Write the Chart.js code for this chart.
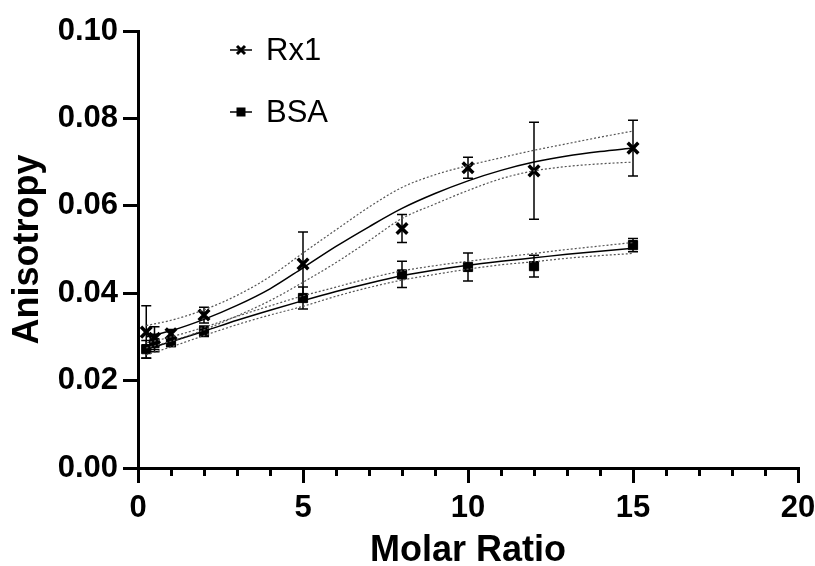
<!DOCTYPE html>
<html>
<head>
<meta charset="utf-8">
<script src="https://cdn.jsdelivr.net/npm/chart.js@4.4.1/dist/chart.umd.min.js"></script>
<style>
    html, body { margin: 0; padding: 0; background: #fff; }
    #wrap { width: 815px; height: 566px; }
</style>
</head>
<body>
<div id="wrap"><canvas id="chart"></canvas></div>
<script>
// measured points
const molarRatio = [0.25, 0.5, 1, 2, 5, 8, 10, 12, 15];
const rx1Mean = [0.0311, 0.0297, 0.0307, 0.0350, 0.0467, 0.0548, 0.0687, 0.0680, 0.0732];
const rx1Err = [0.0060, 0.0026, 0.0010, 0.0018, 0.0073, 0.0032, 0.0024, 0.0111, 0.0064];
const bsaMean = [0.0272, 0.0286, 0.0288, 0.0313, 0.0389, 0.0443, 0.0460, 0.0462, 0.0510];
const bsaErr = [0.0020, 0.0020, 0.0010, 0.0012, 0.0025, 0.0030, 0.0032, 0.0025, 0.0015];

// fitted curves + confidence bands
const fitX = [0.25, 1, 2, 3, 4, 5, 6, 7, 8, 9, 10, 11, 12, 13, 14, 15];
const rx1Fit = [0.0300, 0.0314, 0.0340, 0.0372, 0.0410, 0.0458, 0.0507, 0.0552, 0.0594, 0.0628, 0.0657, 0.0681, 0.0700, 0.0714, 0.0724, 0.0732];
const rx1Upper = [0.0326, 0.0338, 0.0362, 0.0395, 0.0438, 0.0492, 0.0545, 0.0597, 0.0642, 0.0671, 0.0692, 0.0710, 0.0727, 0.0742, 0.0757, 0.0771];
const rx1Lower = [0.0275, 0.0290, 0.0316, 0.0348, 0.0383, 0.0425, 0.0470, 0.0520, 0.0571, 0.0604, 0.0635, 0.0662, 0.0680, 0.0690, 0.0696, 0.0700];
const bsaFit = [0.0272, 0.0289, 0.0313, 0.0338, 0.0361, 0.0383, 0.0404, 0.0423, 0.0440, 0.0453, 0.0464, 0.0473, 0.0481, 0.0489, 0.0496, 0.0503];
const bsaUpper = [0.0286, 0.0300, 0.0322, 0.0347, 0.0371, 0.0394, 0.0414, 0.0434, 0.0451, 0.0463, 0.0473, 0.0482, 0.0491, 0.0500, 0.0508, 0.0516];
const bsaLower = [0.0259, 0.0277, 0.0303, 0.0328, 0.0350, 0.0370, 0.0393, 0.0413, 0.0430, 0.0443, 0.0455, 0.0465, 0.0472, 0.0480, 0.0486, 0.0491];

const seriesNames = ['Rx1', 'BSA'];
const xMinorTicks = [1, 2, 3, 4, 6, 7, 8, 9, 11, 12, 13, 14, 16, 17, 18, 19];

const pts = (xs, ys) => xs.map((x, i) => ({ x: x, y: ys[i] }));

function curve(ys, dotted) {
    return {
        type: 'line',
        data: pts(fitX, ys),
        borderColor: dotted ? '#555' : '#000',
        borderWidth: dotted ? 1.2 : 1.5,
        borderDash: dotted ? [2, 2] : [],
        pointRadius: 0,
        cubicInterpolationMode: 'monotone',
        fill: false
    };
}

const errorBars = {
    id: 'errorBars',
    beforeDatasetsDraw(chart) {
        const ctx = chart.ctx;
        const xs = chart.scales.x;
        const ys = chart.scales.y;
        ctx.save();
        ctx.strokeStyle = '#000';
        ctx.lineWidth = 1.5;
        [[rx1Mean, rx1Err], [bsaMean, bsaErr]].forEach(([m, e]) => {
            molarRatio.forEach((x, i) => {
                const px = xs.getPixelForValue(x);
                const top = ys.getPixelForValue(m[i] + e[i]);
                const bot = ys.getPixelForValue(m[i] - e[i]);
                ctx.beginPath();
                ctx.moveTo(px, top); ctx.lineTo(px, bot);
                ctx.moveTo(px - 5, top); ctx.lineTo(px + 5, top);
                ctx.moveTo(px - 5, bot); ctx.lineTo(px + 5, bot);
                ctx.stroke();
            });
        });
        ctx.restore();
    },
    afterDraw(chart) {
        const ctx = chart.ctx;
        const xs = chart.scales.x;
        const axisY = chart.scales.y.getPixelForValue(0);
        ctx.save();
        ctx.strokeStyle = '#000';
        ctx.lineWidth = 3;
        // minor ticks on x
        xMinorTicks.forEach(v => {
            const px = Math.round(xs.getPixelForValue(v)) + 0.5;
            ctx.beginPath();
            ctx.moveTo(px, axisY);
            ctx.lineTo(px, axisY + 8);
            ctx.stroke();
        });

        // legend
        const lx = 230, items = [50, 112];
        items.forEach((y, i) => {
            ctx.lineWidth = 1.5;
            ctx.beginPath();
            ctx.moveTo(lx, y); ctx.lineTo(lx + 22, y);
            ctx.stroke();
            const cx = lx + 11;
            if (i === 0) {
                ctx.lineWidth = 3;
                ctx.beginPath();
                ctx.moveTo(cx - 4, y - 4); ctx.lineTo(cx + 4, y + 4);
                ctx.moveTo(cx + 4, y - 4); ctx.lineTo(cx - 4, y + 4);
                ctx.stroke();
            } else {
                ctx.fillStyle = '#000';
                ctx.fillRect(cx - 4.5, y - 4.5, 9, 9);
            }
            ctx.fillStyle = '#000';
            ctx.font = '31px "Liberation Sans", Arial, sans-serif';
            ctx.textBaseline = 'middle';
            ctx.fillText(seriesNames[i], 266, y + 1);
        });
        ctx.restore();
    }
};

new Chart(document.getElementById('chart'), {
    type: 'scatter',
    data: {
        datasets: [
            curve(rx1Upper, true),
            curve(rx1Lower, true),
            curve(rx1Fit, false),
            curve(bsaUpper, true),
            curve(bsaLower, true),
            curve(bsaFit, false),
            {
                label: seriesNames[0],
                data: pts(molarRatio, rx1Mean),
                pointStyle: 'crossRot',
                pointRadius: 7.5,
                borderColor: '#000',
                borderWidth: 3.5,
                showLine: false
            },
            {
                label: seriesNames[1],
                data: pts(molarRatio, bsaMean),
                pointStyle: 'rect',
                pointRadius: 6.5,
                backgroundColor: '#000',
                borderColor: '#000',
                borderWidth: 1,
                showLine: false
            }
        ]
    },
    options: {
        responsive: true,
        maintainAspectRatio: false,
        animation: false,
        layout: { padding: { top: 31, right: 17, left: 0, bottom: 0 } },
        plugins: {
            legend: { display: false },
            tooltip: { enabled: false }
        },
        scales: {
            x: {
                type: 'linear',
                min: 0,
                max: 20,
                afterFit: s => { s.height = 98; s.paddingLeft = 0; s.paddingRight = 0; },
                border: { display: true, color: '#000', width: 3 },
                grid: { drawOnChartArea: false, drawTicks: true, tickLength: 15, color: '#000', lineWidth: 3 },
                ticks: {
                    stepSize: 5,
                    color: '#000',
                    padding: 7,
                    font: { family: '"Liberation Sans", Arial, sans-serif', size: 31, weight: 'bold' }
                },
                title: {
                    display: true,
                    text: 'Molar Ratio',
                    color: '#000',
                    padding: { top: 0, bottom: -3 },
                    font: { family: '"Liberation Sans", Arial, sans-serif', size: 36, weight: 'bold', lineHeight: 1.0 }
                }
            },
            y: {
                min: 0,
                max: 0.1,
                afterFit: s => { s.width = 138; },
                border: { display: true, color: '#000', width: 3 },
                grid: { drawOnChartArea: false, drawTicks: true, tickLength: 15, color: '#000', lineWidth: 3 },
                ticks: {
                    stepSize: 0.02,
                    color: '#000',
                    padding: 5,
                    callback: v => v.toFixed(2),
                    font: { family: '"Liberation Sans", Arial, sans-serif', size: 31, weight: 'bold' }
                },
                title: {
                    display: true,
                    text: 'Anisotropy',
                    color: '#000',
                    padding: { top: 6, bottom: 0 },
                    font: { family: '"Liberation Sans", Arial, sans-serif', size: 36, weight: 'bold' }
                }
            }
        }
    },
    plugins: [errorBars]
});
</script>
</body>
</html>
